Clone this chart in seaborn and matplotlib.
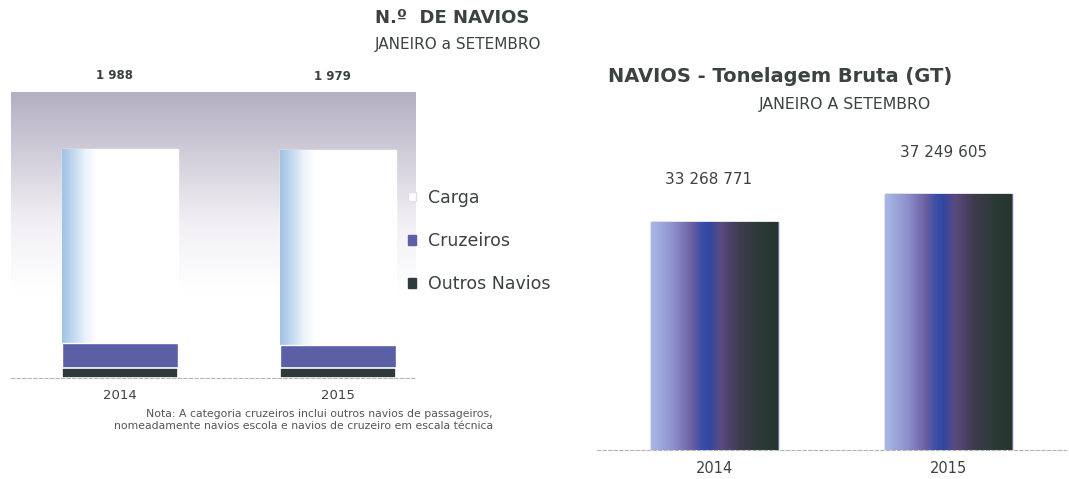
"""
Navios: n.º de navios (barras empilhadas) e tonelagem bruta (GT), janeiro a setembro 2014/2015.
"""
import numpy as np
import seaborn as sns
import matplotlib.pyplot as plt
from matplotlib.colors import LinearSegmentedColormap
from matplotlib.patches import Patch

# dados
anos = ['2014', '2015']
carga = [1688, 1694]
cruzeiros = [210, 200]
outros = [90, 85]
total_rotulos = ['1 988', '1 979']
gt = [33268771, 37249605]
gt_rotulos = ['33 268 771', '37 249 605']
categorias = ['Carga', 'Cruzeiros', 'Outros Navios']

sns.set_style('white')
plt.rcParams['font.family'] = ['DejaVu Sans']
cor_texto = '#3c4242'
cor_cruz = '#5a5fa6'
cor_outros = '#2f3b3b'

fig = plt.figure(figsize=(10.69, 4.79), dpi=100)

# ---------- gráfico da esquerda: n.º de navios ----------
ax1 = fig.add_axes([11 / 1069, 101 / 479, 405 / 1069, 286 / 479])

# fundo em degradê cinza-lilás
fundo = LinearSegmentedColormap.from_list('fundo', [
    (0.0, '#ffffff'), (0.3, '#ffffff'), (0.55, '#f1eff4'), (0.8, '#cfcbd8'), (1.0, '#b3afc2')])
grad = np.linspace(0, 1, 256).reshape(-1, 1)
ax1.imshow(grad, cmap=fundo, aspect='auto', origin='lower', extent=[0, 1, 0, 1],
           transform=ax1.transAxes, zorder=0)

total = [c + z + o for c, z, o in zip(carga, cruzeiros, outros)]
baixo = [z + o for z, o in zip(cruzeiros, outros)]
sns.barplot(x=anos, y=total, color='white', width=0.53, saturation=1, ax=ax1, zorder=2)
sns.barplot(x=anos, y=baixo, color=cor_cruz, width=0.53, saturation=1, ax=ax1, zorder=3)
sns.barplot(x=anos, y=outros, color=cor_outros, width=0.53, saturation=1, ax=ax1,
            edgecolor='white', linewidth=1.2, zorder=4)

# reflexo azul à esquerda das barras de carga
reflexo = LinearSegmentedColormap.from_list('reflexo', [
    (0.0, '#a2c2e5'), (0.08, '#bcd4ee'), (0.2, '#eaf2fa'), (0.3, '#ffffff'), (1.0, '#ffffff')])
hgrad = np.linspace(0, 1, 256).reshape(1, -1)
for p in ax1.patches[:2]:
    x0, y0 = p.get_x(), p.get_y()
    im = ax1.imshow(hgrad, cmap=reflexo, aspect='auto',
                    extent=[x0, x0 + p.get_width(), y0, y0 + p.get_height()], zorder=2.5)
    im.set_clip_path(p)

ax1.set_xlim(-0.5, 1.358)
ax1.set_ylim(0, 2483)
for i, txt in enumerate(total_rotulos):
    ax1.annotate(txt, xy=(i, total[i]), xytext=(-4, 53), textcoords='offset points',
                 ha='center', va='center', fontsize=8.5, fontweight='bold', color=cor_texto,
                 annotation_clip=False)

# ---------- gráfico da direita: tonelagem bruta ----------
ax2 = fig.add_axes([597 / 1069, 29 / 479, 469 / 1069, 309 / 479])
sns.barplot(x=anos, y=gt, color='#4a4a80', width=0.54, saturation=1, ax=ax2,
            edgecolor='#6c6a94', linewidth=1, zorder=2)
metal = LinearSegmentedColormap.from_list('metal', [
    (0.0, '#a9b9e6'), (0.18, '#8c8fcc'), (0.32, '#6d5fa2'), (0.40, '#3a4fa6'),
    (0.46, '#3346a0'), (0.55, '#5a4a80'), (0.70, '#3f3b4f'), (0.85, '#2c3a36'),
    (1.0, '#263530')])
for p in ax2.patches:
    x0, y0 = p.get_x(), p.get_y()
    im = ax2.imshow(hgrad, cmap=metal, aspect='auto',
                    extent=[x0, x0 + p.get_width(), y0, y0 + p.get_height()], zorder=2.5)
    im.set_clip_path(p)
ax2.set_xlim(-0.5, 1.5)
ax2.set_ylim(0, 45e6)
for i, txt in enumerate(gt_rotulos):
    ax2.annotate(txt, xy=(i, gt[i]), xytext=(-4, 30), textcoords='offset points',
                 ha='center', va='center', fontsize=11, color=cor_texto)

# eixos
for ax in (ax1, ax2):
    for s in ('left', 'top', 'right'):
        ax.spines[s].set_visible(False)
    ax.spines['bottom'].set_color('#b5b5b5')
    ax.spines['bottom'].set_linestyle((0, (3, 2)))
    ax.spines['bottom'].set_linewidth(0.8)
    ax.set_yticks([])
    ax.set_xlabel('')
    ax.set_ylabel('')
    ax.set_xticks([0.5], minor=True)
    ax.tick_params(axis='x', which='major', length=0, pad=8, colors=cor_texto)
    ax.tick_params(axis='x', which='minor', length=4, color='#b5b5b5', direction='in')
ax1.tick_params(axis='x', labelsize=9.5)
ax2.tick_params(axis='x', labelsize=10.5)

# legenda
handles = [Patch(facecolor='white', edgecolor='#e0e0e8'),
           Patch(facecolor=cor_cruz, edgecolor=cor_cruz),
           Patch(facecolor=cor_outros, edgecolor=cor_outros)]
fig.legend(handles, categorias, loc='upper left', bbox_to_anchor=(392 / 1069, 1 - 173 / 479),
           frameon=False, fontsize=12.5, labelcolor=cor_texto, handlelength=0.5,
           handleheight=0.5, handletextpad=0.7, labelspacing=1.45)

# títulos e nota
fig.text(375 / 1069, 1 - 18 / 479, 'N.º  DE NAVIOS', ha='left', va='center',
         fontsize=13, fontweight='bold', color=cor_texto)
fig.text(375 / 1069, 1 - 45 / 479, 'JANEIRO a SETEMBRO', ha='left', va='center',
         fontsize=11, color=cor_texto)
fig.text(608 / 1069, 1 - 77 / 479, 'NAVIOS - Tonelagem Bruta (GT)', ha='left', va='center',
         fontsize=14, fontweight='bold', color=cor_texto)
fig.text(845 / 1069, 1 - 105 / 479, 'JANEIRO A SETEMBRO', ha='center', va='center',
         fontsize=11.3, color=cor_texto)
fig.text(493 / 1069, 1 - 420 / 479,
         'Nota: A categoria cruzeiros inclui outros navios de passageiros,\n'
         'nomeadamente navios escola e navios de cruzeiro em escala técnica',
         ha='right', va='center', multialignment='right', fontsize=7.8, color='#555555',
         linespacing=1.25)

fig.savefig('out.png', dpi=100)
